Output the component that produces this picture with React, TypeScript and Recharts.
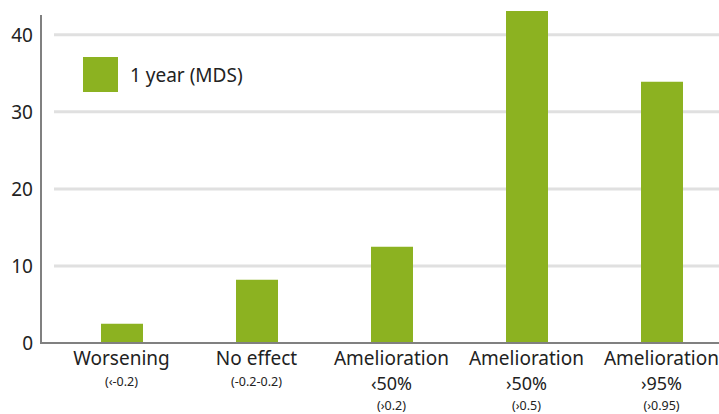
import React from 'react';
import { BarChart, Bar, XAxis, YAxis, CartesianGrid } from 'recharts';

const categoryNames = ['Worsening', 'No effect', 'Amelioration', 'Amelioration', 'Amelioration'];
const categoryThresholds = ['', '', '‹50%', '›50%', '›95%'];
const categoryRanges = ['(‹-0.2)', '(-0.2-0.2)', '(›0.2)', '(›0.5)', '(›0.95)'];
const oneYearMds = [2.5, 8.2, 12.5, 43.1, 33.9];
const yTicks = [0, 10, 20, 30, 40];
const seriesName = '1 year (MDS)';

const GREEN = '#8cb221';
const FONT = '"Noto Sans", "Open Sans", sans-serif';

const data = categoryNames.map((name, i) => ({
  key: `${name} ${categoryThresholds[i]}`.trim(),
  value: oneYearMds[i],
}));

const XTick = (props: any) => {
  const { x, payload } = props;
  const i = payload.index;
  const hasThreshold = categoryThresholds[i] !== '';
  return (
    <g fontFamily={FONT} fill="#222">
      <text x={x} y={365} textAnchor="middle" fontSize={19}>{categoryNames[i]}</text>
      {hasThreshold && (
        <text x={x} y={390} textAnchor="middle" fontSize={18}>{categoryThresholds[i]}</text>
      )}
      <text x={x} y={hasThreshold ? 410 : 386} textAnchor="middle" fontSize={12.5}>{categoryRanges[i]}</text>
    </g>
  );
};

const YTick = (props: any) => {
  const { y, payload } = props;
  return (
    <text x={33} y={y + 7} textAnchor="end" fontSize={19} fontFamily={FONT} fill="#222">
      {payload.value}
    </text>
  );
};

const App: React.FC = () => {
  return (
    <div style={{ position: 'fixed', left: 0, top: 0, width: 719, height: 414, overflow: 'hidden', background: '#fff' }}>
      <BarChart width={740} height={414} data={data} margin={{ top: 4, right: 11, bottom: 0, left: 0 }} barCategoryGap={0}>
        <CartesianGrid vertical={false} stroke="#e0e0e0" strokeWidth={3} horizontalValues={[10, 20, 30, 40]} />
        <XAxis dataKey="key" axisLine={false} tickLine={false} height={71} tick={<XTick />} interval={0} />
        <YAxis width={54} domain={[0, 44]} ticks={yTicks} axisLine={false} tickLine={false} tick={<YTick />} />
        <Bar dataKey="value" name={seriesName} fill={GREEN} barSize={42} isAnimationActive={false} />
      </BarChart>
      <svg width={719} height={414} style={{ position: 'absolute', left: 0, top: 0, pointerEvents: 'none' }}>
        <line x1={41} y1={15} x2={41} y2={344} stroke="#808080" strokeWidth={2} />
        <line x1={40} y1={343} x2={719} y2={343} stroke="#808080" strokeWidth={2} />
      </svg>
      <div style={{ position: 'absolute', left: 83, top: 57, display: 'flex', alignItems: 'center', fontFamily: FONT, fontSize: 19, color: '#222' }}>
        <div style={{ width: 35, height: 35, background: GREEN, marginRight: 12 }} />
        <span>{seriesName}</span>
      </div>
    </div>
  );
};

export default App;
